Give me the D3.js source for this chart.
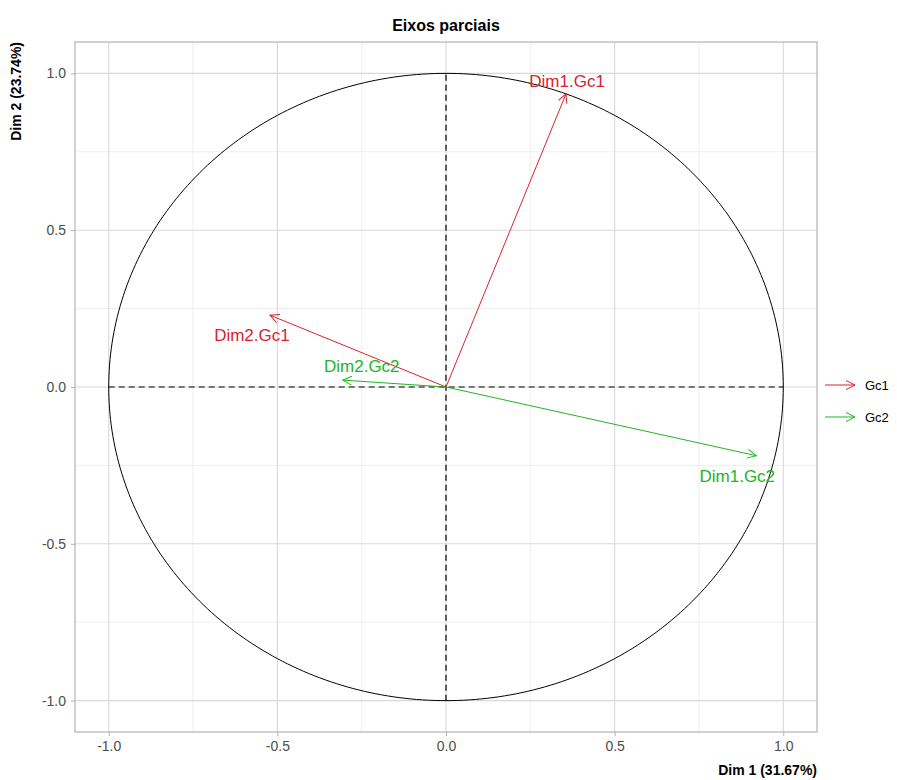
<!DOCTYPE html>
<html>
<head>
<meta charset="utf-8">
<script src="https://cdn.jsdelivr.net/npm/d3@7"></script>
<style>
  body { margin: 0; background: #fff; }
  text { font-family: "Liberation Sans", Arial, sans-serif; }
</style>
</head>
<body>
<div id="chart"></div>
<script>
// partial axes (coordinates on Dim 1 / Dim 2)
const axisNames = ['Dim1.Gc1', 'Dim2.Gc1', 'Dim1.Gc2', 'Dim2.Gc2'];
const axisGroup = ['Gc1', 'Gc1', 'Gc2', 'Gc2'];
const dim1Values = [0.356, -0.522, 0.920, -0.306];
const dim2Values = [0.935, 0.229, -0.219, 0.022];
const groups = ['Gc1', 'Gc2'];
const tickValues = [-1.0, -0.5, 0.0, 0.5, 1.0];
const minorTicks = [-0.75, -0.25, 0.25, 0.75];

const W = 897, H = 780;
const margin = { top: 42, right: 80, bottom: 48, left: 75 };
const pw = W - margin.left - margin.right;
const ph = H - margin.top - margin.bottom;

const color = d3.scaleOrdinal().domain(groups).range(['#d9232e', '#22b422']);
const x = d3.scaleLinear().domain([-1.1, 1.1]).range([0, pw]);
const y = d3.scaleLinear().domain([-1.1, 1.1]).range([ph, 0]);

const svg = d3.select('#chart').append('svg')
  .attr('width', W).attr('height', H);

const defs = svg.append('defs');
groups.forEach(g => {
  defs.append('marker')
    .attr('id', 'arr-' + g)
    .attr('viewBox', '-10 -6 12 12')
    .attr('refX', 0).attr('refY', 0)
    .attr('markerWidth', 12).attr('markerHeight', 12)
    .attr('markerUnits', 'userSpaceOnUse')
    .attr('orient', 'auto')
    .append('path')
    .attr('d', 'M-9,-4.5 L0,0 L-9,4.5')
    .attr('fill', 'none')
    .attr('stroke', color(g))
    .attr('stroke-width', 1);
});

svg.append('text')
  .attr('x', margin.left + pw / 2).attr('y', 31)
  .attr('text-anchor', 'middle')
  .style('font-size', '16px').style('font-weight', 'bold')
  .text('Eixos parciais');

const g = svg.append('g').attr('transform', `translate(${margin.left},${margin.top})`);

// grid
g.selectAll('.minx').data(minorTicks).enter().append('line')
  .attr('x1', d => x(d)).attr('x2', d => x(d)).attr('y1', 0).attr('y2', ph)
  .attr('stroke', '#e8e8e8').attr('stroke-width', 0.7);
g.selectAll('.miny').data(minorTicks).enter().append('line')
  .attr('y1', d => y(d)).attr('y2', d => y(d)).attr('x1', 0).attr('x2', pw)
  .attr('stroke', '#e8e8e8').attr('stroke-width', 0.7);
g.selectAll('.majx').data(tickValues).enter().append('line')
  .attr('x1', d => x(d)).attr('x2', d => x(d)).attr('y1', 0).attr('y2', ph)
  .attr('stroke', '#d9d9d9').attr('stroke-width', 1.1);
g.selectAll('.majy').data(tickValues).enter().append('line')
  .attr('y1', d => y(d)).attr('y2', d => y(d)).attr('x1', 0).attr('x2', pw)
  .attr('stroke', '#d9d9d9').attr('stroke-width', 1.1);

// axes
const fmt = d => d3.format('.1f')(d).replace('\u2212', '-');
const xAxis = g.append('g').attr('transform', `translate(0,${ph})`)
  .call(d3.axisBottom(x).tickValues(tickValues).tickFormat(fmt).tickSize(4).tickPadding(5));
const yAxis = g.append('g')
  .call(d3.axisLeft(y).tickValues(tickValues).tickFormat(fmt).tickSize(4).tickPadding(5));
[xAxis, yAxis].forEach(a => {
  a.select('.domain').remove();
  a.selectAll('line').attr('stroke', '#b3b3b3');
  a.selectAll('text').attr('fill', '#4d4d4d').style('font-size', '14px')
    .style('font-family', '"Liberation Sans", Arial, sans-serif');
});

// panel border
g.append('rect').attr('width', pw).attr('height', ph)
  .attr('fill', 'none').attr('stroke', '#b3b3b3').attr('stroke-width', 1.2);

// unit circle
const circle = d3.range(0, 361).map(a => [Math.cos(a * Math.PI / 180), Math.sin(a * Math.PI / 180)]);
g.append('path')
  .datum(circle)
  .attr('d', d3.line().x(d => x(d[0])).y(d => y(d[1])))
  .attr('fill', 'none').attr('stroke', '#000').attr('stroke-width', 1);

// dashed axes
g.append('line').attr('x1', x(-1)).attr('x2', x(1)).attr('y1', y(0)).attr('y2', y(0))
  .attr('stroke', '#000').attr('stroke-dasharray', '6,4').attr('stroke-width', 1.2);
g.append('line').attr('x1', x(0)).attr('x2', x(0)).attr('y1', y(-1)).attr('y2', y(1))
  .attr('stroke', '#000').attr('stroke-dasharray', '6,4').attr('stroke-width', 1.2);

const data = axisNames.map((n, i) => ({ name: n, group: axisGroup[i], d1: dim1Values[i], d2: dim2Values[i] }));

g.selectAll('.arrow').data(data).enter().append('line')
  .attr('x1', x(0)).attr('y1', y(0))
  .attr('x2', d => x(d.d1)).attr('y2', d => y(d.d2))
  .attr('stroke', d => color(d.group)).attr('stroke-width', 1)
  .attr('marker-end', d => `url(#arr-${d.group})`);

// label nudges (pixels)
const nudge = {
  'Dim1.Gc1': [1, -7],
  'Dim2.Gc1': [-18, 26],
  'Dim2.Gc2': [19, -8],
  'Dim1.Gc2': [-19, 26]
};
g.selectAll('.lbl').data(data).enter().append('text')
  .attr('x', d => x(d.d1) + nudge[d.name][0])
  .attr('y', d => y(d.d2) + nudge[d.name][1])
  .attr('text-anchor', 'middle')
  .attr('fill', d => color(d.group))
  .style('font-size', '17px')
  .text(d => d.name);

// axis titles
svg.append('text')
  .attr('x', margin.left + pw).attr('y', 775)
  .attr('text-anchor', 'end')
  .style('font-size', '14px').style('font-weight', 'bold')
  .text('Dim 1 (31.67%)');
svg.append('text')
  .attr('transform', `translate(21,${margin.top}) rotate(-90)`)
  .attr('text-anchor', 'end')
  .style('font-size', '14px').style('font-weight', 'bold')
  .text('Dim 2 (23.74%)');

// legend
const leg = svg.append('g').attr('transform', `translate(${margin.left + pw + 8},385)`);
groups.forEach((gr, i) => {
  const row = leg.append('g').attr('transform', `translate(0,${i * 32})`);
  row.append('line').attr('x1', 0).attr('x2', 30).attr('y1', 0).attr('y2', 0)
    .attr('stroke', color(gr)).attr('stroke-width', 1)
    .attr('marker-end', `url(#arr-${gr})`);
  row.append('text').attr('x', 40).attr('y', 5)
    .style('font-size', '13px').attr('fill', '#000').text(gr);
});
</script>
</body>
</html>
